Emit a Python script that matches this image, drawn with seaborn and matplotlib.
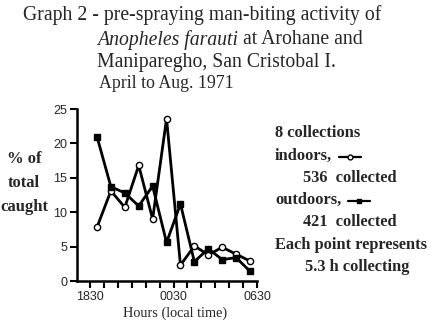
import matplotlib
matplotlib.use("Agg")
import matplotlib.pyplot as plt
from matplotlib.lines import Line2D
import seaborn as sns
import pandas as pd

# ---- data ----
hours = [19, 20, 21, 22, 23, 24, 25, 26, 27, 28, 29, 30]  # mid-hour of each collection (clock h, +24 after midnight)
indoors = [7.8, 13.1, 10.7, 16.8, 9.0, 23.6, 2.3, 5.1, 3.8, 4.9, 3.9, 2.9]
outdoors = [21.0, 13.7, 12.8, 10.9, 13.8, 5.6, 11.2, 2.8, 4.7, 3.1, 3.4, 1.4]
tick_hours = [18.5 + i for i in range(13)]
tick_labels = ["1830", "", "", "", "", "", "0030", "", "", "", "", "", "0630"]
y_ticks = [0, 5, 10, 15, 20, 25]

sns.set_style("ticks")
plt.rcParams["font.family"] = ["Liberation Serif", "DejaVu Serif"]

W, H = 436, 327
fig = plt.figure(figsize=(W / 100, H / 100), dpi=100)
ax = fig.add_axes([77 / W, 1 - 281 / H, (257 - 77) / W, (281 - 109) / H])

df = pd.DataFrame({"hour": hours, "indoors": indoors, "outdoors": outdoors})
sns.lineplot(data=df, x="hour", y="indoors", ax=ax, color="black", lw=2.0,
             marker="o", markersize=4.5, markerfacecolor="white",
             markeredgecolor="black", markeredgewidth=1.0)
sns.lineplot(data=df, x="hour", y="outdoors", ax=ax, color="black", lw=2.0,
             marker="s", markersize=4, markerfacecolor="black",
             markeredgecolor="black", markeredgewidth=1.0)

ax.set_xlim(17.565, 30.5)
ax.set_ylim(0, 25)
ax.set_xticks(tick_hours)
ax.set_xticklabels(tick_labels)
ax.set_yticks(y_ticks)
ax.set_yticklabels([str(v) for v in y_ticks])
for lab in ax.get_xticklabels() + ax.get_yticklabels():
    lab.set_family("Liberation Sans")
    lab.set_fontsize(9)
ax.tick_params(axis="both", length=5, width=1.5, color="black", pad=2)
for s in ["left", "bottom"]:
    ax.spines[s].set_linewidth(1.8)
    ax.spines[s].set_color("black")
sns.despine(ax=ax)
ax.set_xlabel("Hours (local time)", fontsize=10.3)
ax.xaxis.set_label_coords((175 - 77) / (257 - 77), -(313 - 281) / (281 - 109))
ax.xaxis.label.set_va("center")
ax.set_ylabel("")
ax.grid(False)

# ---- title ----
tfs = 14.2
fig.text(23 / W, 1 - 15 / H, "Graph 2 - pre-spraying man-biting activity of",
         fontsize=tfs, va="center", ha="left")
t_it = fig.text(97 / W, 1 - 40 / H, "Anopheles farauti", fontsize=tfs,
                style="italic", va="center", ha="left")
ax.annotate(" at Arohane and", xy=(1, 0.5), xycoords=t_it, va="center",
            ha="left", fontsize=tfs, annotation_clip=False)
fig.text(97 / W, 1 - 63 / H, "Maniparegho, San Cristobal I.",
         fontsize=tfs, va="center", ha="left")
fig.text(99 / W, 1 - 83 / H, "April to Aug. 1971",
         fontsize=12.8, va="center", ha="left")

# ---- left label ----
for i, s in enumerate(["% of", "total", "caught"]):
    fig.text(24 / W, 1 - (159 + 24 * i) / H, s, fontsize=12,
             weight="bold", ha="center", va="center")

# ---- right notes ----
rfs = 11.8
notes = [
    (275, 133, "8 collections"),
    (275, 156, "indoors,"),
    (303, 178, "536  collected"),
    (275, 200, "outdoors,"),
    (303, 222, "421  collected"),
    (275, 245, "Each point represents"),
    (305, 267, "5.3 h collecting"),
]
note_artists = {}
for x, y, s in notes:
    note_artists[s] = fig.text(x / W, 1 - y / H, s, fontsize=rfs,
                               weight="bold", ha="left", va="center")

renderer = fig.canvas.get_renderer()
for key, y, mk, fc, ms in [("indoors,", 157, "o", "white", 3.5),
                           ("outdoors,", 201, "s", "black", 3)]:
    bb = note_artists[key].get_window_extent(renderer)
    x0 = bb.x1 + 7
    fig.add_artist(Line2D([x0 / W, (x0 + 22) / W], [1 - y / H] * 2,
                          color="black", lw=1.6))
    fig.add_artist(Line2D([(x0 + 11) / W], [1 - y / H], color="black",
                          marker=mk, markersize=ms, markerfacecolor=fc,
                          markeredgewidth=1.0, lw=0))

fig.savefig("out.png", dpi=100)
